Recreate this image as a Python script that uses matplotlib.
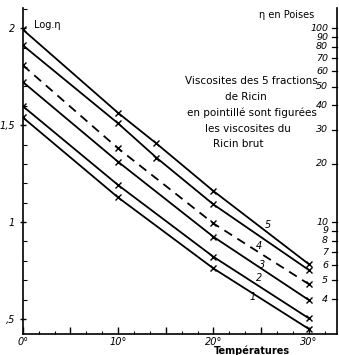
#!/usr/bin/env python3
# -*- coding: utf-8 -*-
"""
Viscosités des 5 fractions de Ricin (log eta en fonction de la température)
"""

import numpy as np
import matplotlib
matplotlib.use('Agg')
import matplotlib.pyplot as plt
from matplotlib.ticker import MultipleLocator

plt.rcParams['font.family'] = ['DejaVu Sans']

# températures (°C)
temps = [0, 10, 20, 30]
temps_45 = [0, 10, 14, 20, 30]   # fractions 4 et 5 ont un point de plus

# log10 de la viscosité (poises)
frac1 = [1.540, 1.127, 0.761, 0.449]
frac2 = [1.598, 1.191, 0.821, 0.504]
frac3 = [1.723, 1.311, 0.924, 0.598]
brut = [1.809, 1.380, 0.993, 0.680]
frac4 = [1.912, 1.509, 1.333, 1.091, 0.753]
frac5 = [1.993, 1.563, 1.406, 1.160, 0.783]

# échelle de droite : eta en poises
poises = [4, 5, 6, 7, 8, 9, 10, 20, 30, 40, 50, 60, 70, 80, 90, 100]
poises_lbl = ['4', '5', '6', '7', '8', '9', '10', '20', '30', '40',
              '50', '60', '70', '80', '90', '100']

left_ticks = [0.5, 1.0, 1.5, 2.0]
left_lbl = [',5', '1', '1,5', '2']
x_ticks = [0, 5, 10, 15, 20, 25, 30]
x_lbl = ['0°', '', '10°', '', '20°', '', '30°']

text_lines = ['Viscosites des 5 fractions', 'de Ricin',
              'en pointillé sont figurées', 'les viscosites du', 'Ricin brut']


def main():
    fig = plt.figure(figsize=(3.39, 3.55), dpi=100)
    ax = fig.add_axes([0.067, 0.059, 0.927, 0.918])
    ax.set_xlim(0, 32.95)
    ax.set_ylim(0.4227, 2.103)

    lw = 1.3
    kw = dict(color='black', lw=lw, marker='x', ms=4, mew=1)
    for ys in [frac1, frac2, frac3]:
        ax.plot(temps, ys, **kw)
    ax.plot(temps, brut, ls=(0, (5, 3.5)), **kw)
    ax.plot(temps_45, frac4, **kw)
    ax.plot(temps_45, frac5, **kw)

    # numéros des courbes
    for lab, (tx, ty) in zip(['5', '4', '3', '2', '1'],
                             [(25.7, 0.985), (24.8, 0.876), (25.1, 0.778),
                              (24.8, 0.711), (24.1, 0.613)]):
        ax.text(tx, ty, lab, fontsize=7, style='italic', ha='center', va='center')

    # axes
    ax.spines['top'].set_visible(False)
    for s in ['left', 'bottom', 'right']:
        ax.spines[s].set_linewidth(1.2)

    ax.set_xticks(x_ticks)
    ax.set_xticklabels(x_lbl, fontsize=7, style='italic')
    ax.xaxis.set_minor_locator(MultipleLocator(5 / 3))
    ax.tick_params(axis='x', which='major', direction='in', length=5, width=1, pad=2)
    ax.tick_params(axis='x', which='minor', direction='in', length=2.5, width=0.8)

    ax.set_yticks(left_ticks)
    ax.set_yticklabels(left_lbl, fontsize=7, style='italic')
    ax.yaxis.set_minor_locator(MultipleLocator(0.1))
    ax.tick_params(axis='y', which='major', direction='inout', length=5, width=1, pad=3)
    ax.tick_params(axis='y', which='minor', direction='in', length=3, width=0.8)

    # échelle en poises à droite
    tr = ax.get_yaxis_transform()
    for v, lab in zip(poises, poises_lbl):
        y = np.log10(v)
        ax.plot([0.985, 1.0], [y, y], transform=tr, color='black', lw=0.9, clip_on=False)
        ax.text(0.972, y, lab, transform=tr, fontsize=6.8, style='italic',
                ha='right', va='center')

    ax.text(0.84, 2.067, 'η en Poises', transform=tr, fontsize=7, ha='center', va='center')
    ax.text(0.035, 2.015, 'Log.η', transform=tr, fontsize=7, ha='left', va='center')
    ax.text(0.73, -0.05, 'Températures', transform=ax.transAxes, fontsize=7,
            fontweight='bold', ha='center', va='center')

    # légende en texte
    xs = [24.0, 23.4, 24.0, 23.6, 22.6]
    ys = [1.727, 1.644, 1.562, 1.479, 1.402]
    for tx, ty, line in zip(xs, ys, text_lines):
        ax.text(tx, ty, line, fontsize=7.5, ha='center', va='center')

    fig.savefig('out.png', dpi=100)
    plt.close(fig)


if __name__ == '__main__':
    main()
